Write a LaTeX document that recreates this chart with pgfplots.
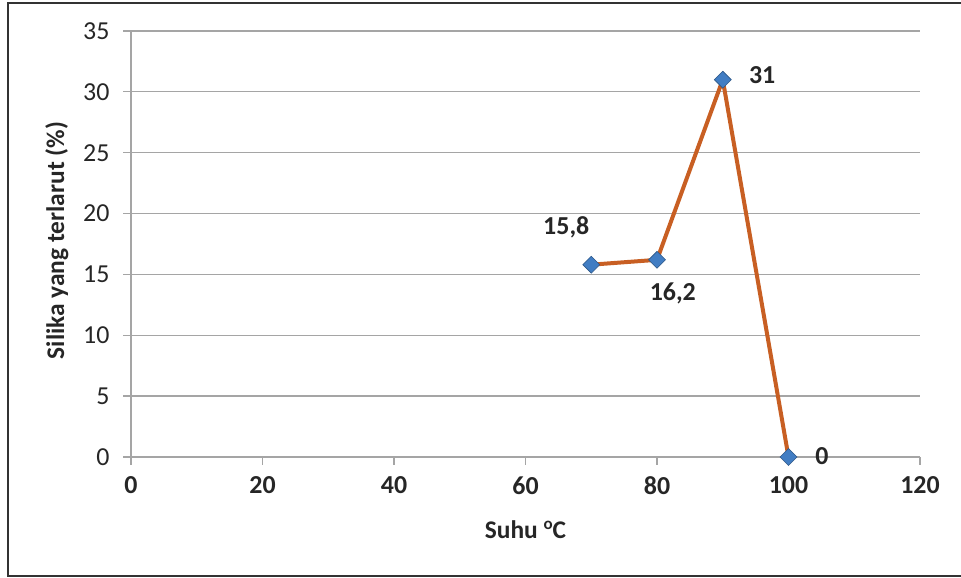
\documentclass[border=0pt]{standalone}
\usepackage{pgfplots}
\pgfplotsset{compat=1.18}
\usepackage{fontspec}
\setmainfont{Carlito}
\definecolor{lineor}{RGB}{200,95,35}
\definecolor{mkblue}{RGB}{65,125,195}
\definecolor{gridg}{RGB}{165,165,165}
\begin{document}
\begin{tikzpicture}[x=1bp,y=1bp]
\useasboundingbox (0,0) rectangle (961,578);
\draw[line width=2.5bp, black!80] (961,575) -- (8,575) -- (8,2) -- (961,2);
\begin{axis}[
  at={(131bp,121bp)}, anchor=south west,
  scale only axis, width=789bp, height=426bp,
  xmin=0, xmax=120, ymin=0, ymax=35,
  xtick={0,20,...,120}, ytick={0,5,...,35},
  axis x line*=bottom, axis y line*=left,
  axis line style={-, gridg, line width=1.3bp},
  ymajorgrids, grid style={gridg, line width=1.3bp},
  tick align=outside, major tick length=8bp,
  tick style={gridg, line width=1.3bp},
  /pgf/number format/assume math mode=true,
  ticklabel style={font=\fontsize{26}{30}\selectfont, black!85},
  xticklabel style={font=\fontsize{26}{30}\selectfont\bfseries, yshift=-8bp},
  yticklabel style={xshift=-10bp},
  xlabel={Suhu \raisebox{0.75ex}{\fontsize{17}{20}\selectfont o}C},
  ylabel={Silika yang terlarut (\%)},
  label style={font=\fontsize{25.5}{30}\selectfont\bfseries, black!85},
  xlabel style={at={(axis description cs:0.5,-0.171)}, anchor=center},
  ylabel style={at={(axis description cs:-0.094,0.508)}, anchor=center, rotate=0},
  clip=false,
]
\addplot[color=lineor, line width=4bp, mark=square*, mark size=6bp,
  mark options={rotate=45, fill=mkblue, draw=mkblue!70!black, line width=0.6bp}]
  coordinates {(70,15.8) (80,16.2) (90,31) (100,0)};
\begin{scope}[every node/.style={font=\fontsize{26}{30}\selectfont\bfseries, black!85, anchor=center}]
\node at (axis cs:66.2,18.9) {15,8};
\node at (axis cs:82.4,13.4) {16,2};
\node at (axis cs:96.0,31.4) {31};
\node at (axis cs:105.1,0.1) {0};
\end{scope}
\end{axis}
\end{tikzpicture}
\end{document}
